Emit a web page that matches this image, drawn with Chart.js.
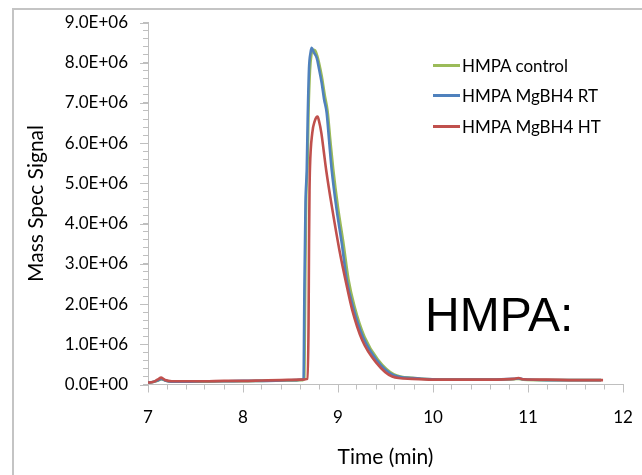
<!DOCTYPE html>
<html>
<head>
<meta charset="utf-8">
<script src="https://cdn.jsdelivr.net/npm/chart.js@4.4.0/dist/chart.umd.min.js"></script>
<style>
    body { margin: 0; background: #fff; }
    #wrap { position: relative; width: 642px; height: 475px; overflow: hidden; }
    #frame { position: absolute; left: 12px; top: 8px; right: -10px; bottom: -10px;
             border-left: 2px solid #c4c4c4; border-top: 2px solid #c4c4c4; }
    #legend { position: absolute; left: 433px; top: 50px; font-family: Lato, sans-serif; font-size: 17px; color: #000; }
    .row { height: 30.5px; display: flex; align-items: center; }
    .swatch { width: 27px; height: 3px; margin-right: 2px; }
    #label { position: absolute; left: 425px; top: 287px; font-family: "Liberation Sans", Arial, sans-serif;
             font-size: 48px; color: #000; }
</style>
</head>
<body>
<div id="wrap">
    <div id="frame"></div>
    <canvas id="msChart" width="642" height="475"></canvas>
    <div id="legend"></div>
    <div id="label">HMPA:</div>
</div>
<script>
// values (time in min, signal in counts)
const ctrlTime   = [7.00, 7.05, 7.10, 7.14, 7.18, 7.25, 7.40, 7.60, 7.80, 8.00, 8.20, 8.40, 8.55, 8.63, 8.645,
                    8.655, 8.665, 8.68, 8.69, 8.705, 8.72, 8.74, 8.76, 8.78, 8.80, 8.83, 8.86, 8.89, 8.92, 8.95,
                    9.00, 9.055, 9.11, 9.175, 9.28, 9.42, 9.59, 9.80, 10.0, 10.3, 10.6, 10.85, 10.9, 10.95, 11.2, 11.5, 11.77];
const ctrlSignal = [0.05e6, 0.06e6, 0.09e6, 0.13e6, 0.10e6, 0.07e6, 0.07e6, 0.07e6, 0.08e6, 0.08e6, 0.09e6, 0.10e6, 0.10e6, 0.11e6, 0.15e6,
                    2.5e6, 4.6e6, 5.5e6, 6.8e6, 7.8e6, 8.2e6, 8.32e6, 8.30e6, 8.18e6, 8.0e6, 7.65e6, 7.2e6, 6.8e6, 6.05e6, 5.35e6,
                    4.4e6, 3.55e6, 2.62e6, 1.93e6, 1.18e6, 0.62e6, 0.25e6, 0.16e6, 0.13e6, 0.12e6, 0.12e6, 0.13e6, 0.14e6, 0.12e6, 0.11e6, 0.11e6, 0.11e6];

const rtTime   = [7.00, 7.05, 7.10, 7.14, 7.18, 7.25, 7.40, 7.60, 7.80, 8.00, 8.20, 8.40, 8.55, 8.62, 8.637,
                  8.647, 8.658, 8.671, 8.681, 8.695, 8.711, 8.723, 8.747, 8.776, 8.80, 8.828, 8.853, 8.881, 8.905, 8.934,
                  8.986, 9.039, 9.092, 9.158, 9.263, 9.407, 9.579, 9.789, 10.0, 10.3, 10.6, 10.85, 10.9, 10.95, 11.2, 11.5, 11.77];
const rtSignal = [0.05e6, 0.06e6, 0.10e6, 0.14e6, 0.10e6, 0.07e6, 0.07e6, 0.08e6, 0.08e6, 0.09e6, 0.09e6, 0.10e6, 0.11e6, 0.12e6, 0.15e6,
                  2.5e6, 4.5e6, 5.33e6, 6.6e6, 7.86e6, 8.25e6, 8.37e6, 8.25e6, 8.12e6, 7.85e6, 7.5e6, 7.1e6, 6.75e6, 6.1e6, 5.33e6,
                  4.34e6, 3.52e6, 2.6e6, 1.93e6, 1.18e6, 0.61e6, 0.24e6, 0.16e6, 0.13e6, 0.12e6, 0.12e6, 0.14e6, 0.15e6, 0.13e6, 0.11e6, 0.11e6, 0.11e6];

const htTime   = [7.00, 7.05, 7.10, 7.14, 7.18, 7.25, 7.40, 7.60, 7.80, 8.00, 8.20, 8.40, 8.60, 8.68, 8.69,
                  8.695, 8.70, 8.705, 8.729, 8.755, 8.785, 8.80, 8.825, 8.85, 8.875, 8.94, 9.015, 9.085, 9.15, 9.255,
                  9.40, 9.57, 9.78, 10.0, 10.3, 10.6, 10.85, 10.9, 10.95, 11.2, 11.5, 11.79];
const htSignal = [0.05e6, 0.06e6, 0.12e6, 0.17e6, 0.11e6, 0.08e6, 0.08e6, 0.08e6, 0.09e6, 0.09e6, 0.10e6, 0.11e6, 0.12e6, 0.14e6, 1.5e6,
                  3.5e6, 4.8e6, 5.4e6, 6.25e6, 6.55e6, 6.66e6, 6.55e6, 6.25e6, 5.8e6, 5.34e6, 4.36e6, 3.34e6, 2.53e6, 1.85e6, 1.10e6,
                  0.55e6, 0.20e6, 0.14e6, 0.12e6, 0.12e6, 0.12e6, 0.14e6, 0.16e6, 0.13e6, 0.12e6, 0.11e6, 0.11e6];

const seriesLabels = ['HMPA control', 'HMPA MgBH4 RT', 'HMPA MgBH4 HT'];
const seriesColors = ['#9bbb59', '#4f81bd', '#c0504d'];
const majorTicksX = [7, 8, 9, 10, 11, 12];
const majorTicksY = [0, 1e6, 2e6, 3e6, 4e6, 5e6, 6e6, 7e6, 8e6, 9e6];

function toPoints(times, values) {
    return times.map((t, i) => ({ x: t, y: values[i] }));
}

function isWhole(v, unit) {
    return Math.abs(v / unit - Math.round(v / unit)) < 1e-6;
}

// longer marks on the major ticks
const majorTickPlugin = {
    id: 'majorTicks',
    afterDraw(chart) {
        const ctx = chart.ctx;
        const xs = chart.scales.x, ys = chart.scales.y;
        ctx.save();
        ctx.strokeStyle = '#bfbfbf';
        ctx.lineWidth = 1;
        ctx.beginPath();
        majorTicksX.forEach(v => {
            const px = Math.round(xs.getPixelForValue(v)) + 0.5;
            ctx.moveTo(px, ys.bottom);
            ctx.lineTo(px, ys.bottom + 8);
        });
        majorTicksY.forEach(v => {
            const py = Math.round(ys.getPixelForValue(v)) + 0.5;
            ctx.moveTo(xs.left, py);
            ctx.lineTo(xs.left - 8, py);
        });
        ctx.stroke();
        ctx.restore();
    }
};

Chart.defaults.font.family = 'Lato';
Chart.defaults.color = '#000';

const datasets = [
    { data: toPoints(ctrlTime, ctrlSignal), order: 3 },
    { data: toPoints(rtTime, rtSignal), order: 2 },
    { data: toPoints(htTime, htSignal), order: 1 }
].map((d, i) => Object.assign(d, {
    label: seriesLabels[i],
    borderColor: seriesColors[i],
    backgroundColor: seriesColors[i],
    borderWidth: 2.6,
    pointRadius: 0,
    cubicInterpolationMode: 'monotone',
    fill: false
}));

new Chart(document.getElementById('msChart').getContext('2d'), {
    type: 'line',
    data: { datasets: datasets },
    options: {
        responsive: false,
        animation: false,
        devicePixelRatio: 1,
        layout: { padding: { top: 22.5, right: 19, bottom: 0, left: 0 } },
        plugins: {
            legend: { display: false },
            tooltip: { enabled: false }
        },
        scales: {
            x: {
                type: 'linear',
                min: 7,
                max: 12,
                afterFit: scale => {
                    scale.height = 90.5;
                    scale.paddingLeft = 0;
                    scale.paddingRight = 0;
                },
                border: { color: '#bfbfbf', width: 1 },
                grid: { drawOnChartArea: false, drawTicks: true, tickLength: 5, tickColor: '#bfbfbf' },
                ticks: {
                    stepSize: 0.2,
                    autoSkip: false,
                    maxRotation: 0,
                    padding: 18,
                    font: { size: 17 },
                    callback: v => isWhole(v, 1) ? String(Math.round(v)) : ''
                },
                title: { display: true, text: 'Time (min)', font: { size: 21 }, padding: { top: 0, bottom: 5 } }
            },
            y: {
                min: 0,
                max: 9e6,
                afterFit: scale => {
                    scale.width = 148;
                    scale.paddingTop = 0;
                    scale.paddingBottom = 0;
                },
                border: { color: '#bfbfbf', width: 1 },
                grid: { drawOnChartArea: false, drawTicks: true, tickLength: 5, tickColor: '#bfbfbf' },
                ticks: {
                    stepSize: 2e5,
                    autoSkip: false,
                    padding: 15,
                    font: { size: 17 },
                    callback: v => {
                        if (!isWhole(v, 1e6)) return '';
                        return v === 0 ? '0.0E+00' : (v / 1e6).toFixed(1) + 'E+06';
                    }
                },
                title: { display: true, text: 'Mass Spec Signal', font: { size: 21 }, padding: { top: 24, bottom: 0 } }
            }
        }
    },
    plugins: [majorTickPlugin]
});

// legend drawn as html beside the plot
const legendBox = document.getElementById('legend');
seriesLabels.forEach((name, i) => {
    const row = document.createElement('div');
    row.className = 'row';
    row.innerHTML = '<span class="swatch" style="background:' + seriesColors[i] + '"></span>' + name;
    legendBox.appendChild(row);
});
</script>
</body>
</html>
